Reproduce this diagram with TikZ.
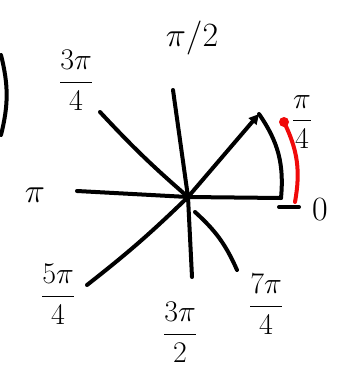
\documentclass[tikz,border=0pt]{standalone}
\usepackage{fix-cm}
\usepackage{amsmath}
\usepackage{tikz}
\usetikzlibrary{arrows.meta,positioning,calc}
\definecolor{arcred}{RGB}{240,10,10}

\begin{document}
\begin{tikzpicture}[x=1pt,y=-1pt,>={Triangle[length=10pt,width=10pt]},
    ray/.style={line width=4pt,line cap=round},
    lbl/.style={font=\fontsize{30}{32}\selectfont,inner sep=1pt},
    big/.style={font=\fontsize{34}{36}\selectfont}]
  \useasboundingbox (0,0) rectangle (340,372);
  \coordinate (o) at (188,197);
  \coordinate (e0) at (281,198);
  \coordinate (e1) at (259,114);
  \coordinate (e2) at (173,90);
  \coordinate (e3) at (100,112);
  \coordinate (e4) at (77,191);
  \coordinate (e5) at (87,285);
  \coordinate (e6) at (192,277);
  \coordinate (e7) at (237,270);
  \draw[ray] (e4) -- (o) -- (e0);
  \draw[ray] (e2) -- (o) -- (e6);
  \draw[ray,->] (o) -- (e1);
  \draw[ray] (e3) to[bend right=3] (o);
  \draw[ray] (o) to[bend left=3] (e5);
  \draw[ray] (195,212) to[bend left=12] (e7);
  % angle arcs
  \draw[ray] (e0) to[bend right=20] (e1);
  \draw[ray,arcred] (295,202) to[bend right=18] (284,122);
  \fill[arcred] (284,122) circle (5pt);
  \draw[ray] (279,207) -- (299,207);
  % part of a bracket at the left edge
  \draw[ray] (1,55) to[bend left=14] (1,135);
  % labels
  \node[lbl,big] (l0) at (320,210) {$0$};
  \node[lbl] (l1) at (302,122) {$\dfrac{\pi}{4}$};
  \node[lbl,big] (l2) at (192,38) {$\pi/2$};
  \node[lbl] (l3) at (76,80) {$\dfrac{3\pi}{4}$};
  \node[lbl,big] (l4) at (35,195) {$\pi$};
  \node[lbl] (l5) at (58,294) {$\dfrac{5\pi}{4}$};
  \node[lbl] (l6) at (180,332) {$\dfrac{3\pi}{2}$};
  \node[lbl] (l7) at (266,304) {$\dfrac{7\pi}{4}$};
\end{tikzpicture}
\end{document}
